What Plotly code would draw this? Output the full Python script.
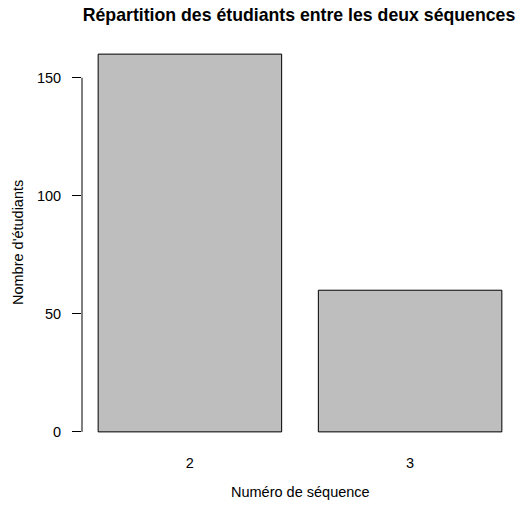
import plotly.graph_objects as go

categories = ["2", "3"]
counts = [160, 60]
y_ticks = [0, 50, 100, 150]

title = "Répartition des étudiants entre les deux séquences"
x_title = "Numéro de séquence"
y_title = "Nombre d'étudiants"

W, H = 520, 511
L, R, T, B = 82, 2, 39, 64

font = "Liberation Sans, Arial, Helvetica, sans-serif"
fs = 14.5

fig = go.Figure(go.Bar(
    x=categories, y=counts,
    marker=dict(color="#BEBEBE", line=dict(color="black", width=1)),
    hoverinfo="x+y",
))

fig.update_layout(
    width=W, height=H,
    margin=dict(l=L, r=R, t=T, b=B, pad=0),
    paper_bgcolor="white", plot_bgcolor="white",
    bargap=1 - 1 / 1.2,
    showlegend=False,
    font=dict(family=font, size=fs, color="black"),
    title=dict(text="<b>" + title + "</b>", font=dict(size=17.7, family=font, color="black"),
               x=299 / W, xanchor="center", xref="container",
               y=1 - 15 / H, yanchor="middle", yref="container"),
    xaxis=dict(type="category", range=[-0.49, 1.49], showline=False, showgrid=False,
               zeroline=False, ticks="", ticklabelstandoff=5,
               tickfont=dict(size=fs, family=font)),
    yaxis=dict(range=[-6.4, 166.4], tickvals=y_ticks, showline=False, showgrid=False,
               zeroline=False, ticks="outside", ticklen=9, tickcolor="black", tickwidth=1,
               ticklabelstandoff=8, tickfont=dict(size=fs, family=font)),
    shapes=[dict(type="line", xref="paper", yref="y", x0=0, x1=0,
                 y0=y_ticks[0], y1=y_ticks[-1], line=dict(color="black", width=1))],
    annotations=[
        dict(text=x_title, xref="x", yref="paper", x=0.5, y=0, yshift=-45,
             xanchor="center", yanchor="middle", showarrow=False, font=dict(size=fs, family=font)),
        dict(text=y_title, xref="paper", yref="paper", x=0, y=0.5, xshift=-64,
             xanchor="center", yanchor="middle", textangle=-90, showarrow=False,
             font=dict(size=fs, family=font)),
    ],
)

# remove the default page margin so the figure fills the window exactly
fig.write_html("out.html", config={"displayModeBar": False},
               post_script="document.body.style.margin='0';document.body.style.overflow='hidden';")
